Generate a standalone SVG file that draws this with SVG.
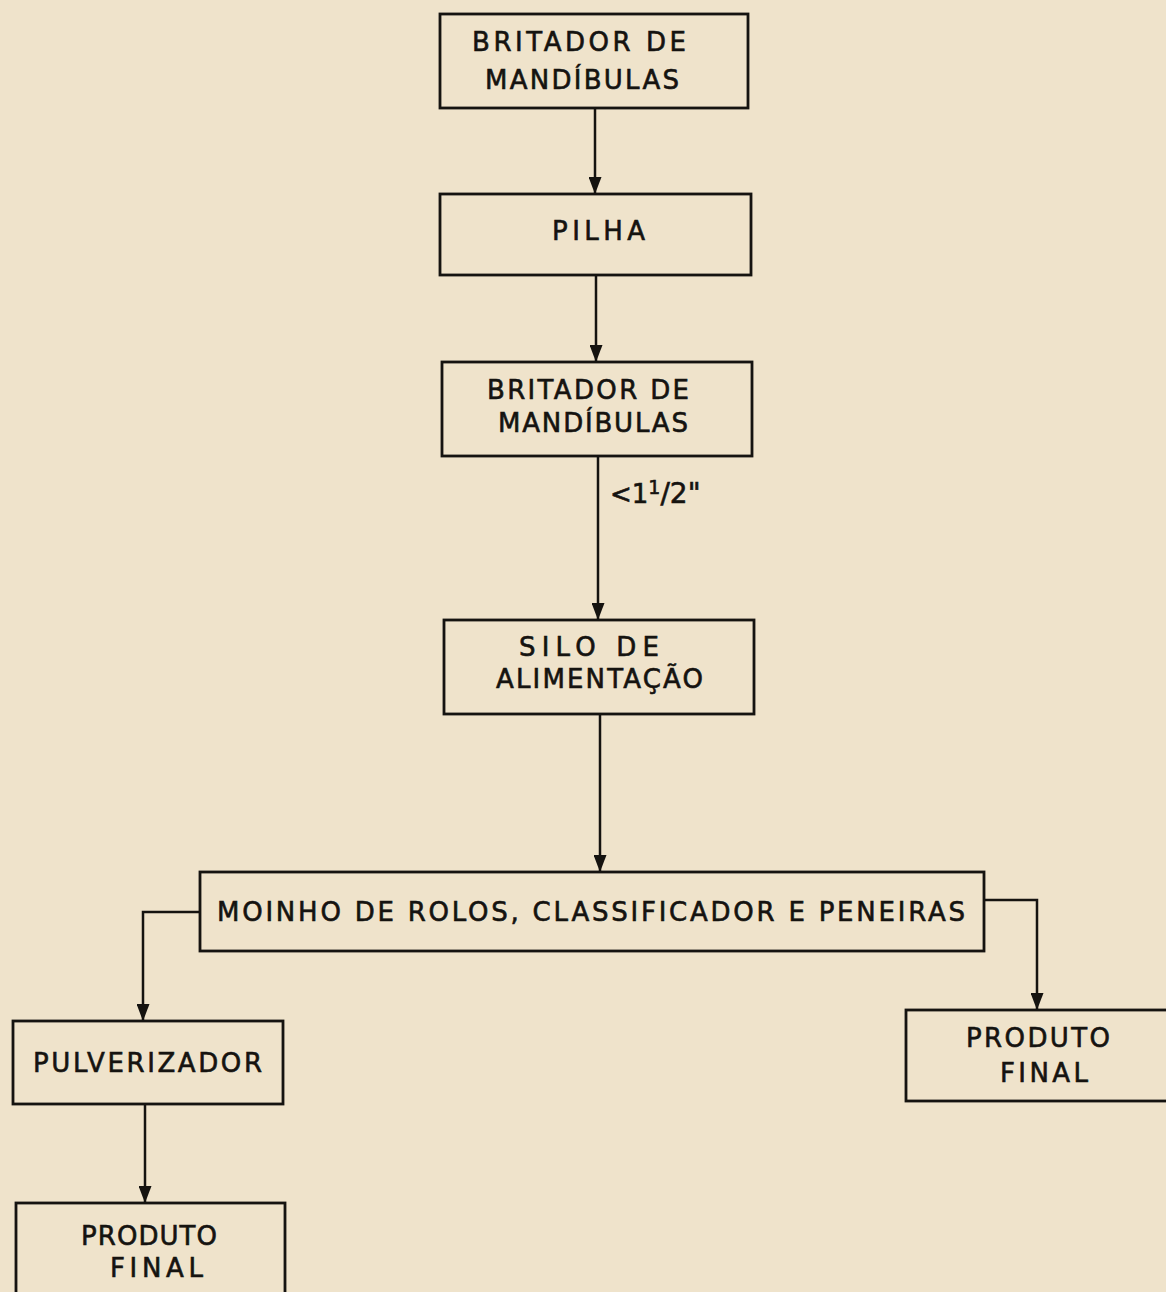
<svg xmlns="http://www.w3.org/2000/svg" width="1166" height="1292" viewBox="0 0 1166 1292">
<style>
.box{fill:none;stroke:#151310;stroke-width:2.8}
.ln{fill:none;stroke:#151310;stroke-width:2.5}
text{font-family:"DejaVu Sans","Liberation Sans",sans-serif;font-size:26px;fill:#151310;stroke:#151310;stroke-width:0.6}
</style>
<defs>
<marker id="ah" markerWidth="17" markerHeight="13" refX="17" refY="6.5" orient="auto" markerUnits="userSpaceOnUse" viewBox="0 0 17 13">
<path d="M0,0 L17,6.5 L0,13 Z" fill="#151310"/>
</marker>
</defs>
<rect width="1166" height="1292" fill="#efe3cb"/>
<g id="connectors">
<line class="ln" x1="595" y1="108" x2="595" y2="194" marker-end="url(#ah)"/>
<line class="ln" x1="596" y1="275" x2="596" y2="362" marker-end="url(#ah)"/>
<line class="ln" x1="598" y1="456" x2="598" y2="620" marker-end="url(#ah)"/>
<line class="ln" x1="600" y1="714" x2="600" y2="872" marker-end="url(#ah)"/>
<polyline class="ln" points="200,912 143,912 143,1021" marker-end="url(#ah)"/>
<polyline class="ln" points="984,900 1037,900 1037,1010" marker-end="url(#ah)"/>
<line class="ln" x1="145" y1="1104" x2="145" y2="1203" marker-end="url(#ah)"/>
<text id="label-size" x="610" y="503" font-size="28">&lt;1<tspan dy="-9" font-size="19">1</tspan><tspan dy="9" font-size="28">/2"</tspan></text>
</g>
<g id="britador1">
<rect class="box" x="440" y="14" width="308" height="94"/>
<text x="472" y="51" textLength="214" lengthAdjust="spacing">BRITADOR DE</text>
<text x="485" y="89" textLength="194" lengthAdjust="spacing">MANDÍBULAS</text>
</g>
<g id="pilha">
<rect class="box" x="440" y="194" width="311" height="81"/>
<text x="552" y="240" textLength="93" lengthAdjust="spacing">PILHA</text>
</g>
<g id="britador2">
<rect class="box" x="442" y="362" width="310" height="94"/>
<text x="487" y="399" textLength="202" lengthAdjust="spacing">BRITADOR DE</text>
<text x="498" y="432" textLength="190" lengthAdjust="spacing">MANDÍBULAS</text>
</g>
<g id="silo">
<rect class="box" x="444" y="620" width="310" height="94"/>
<text x="519" y="656" textLength="140" lengthAdjust="spacing">SILO  DE</text>
<text x="496" y="688" textLength="207" lengthAdjust="spacing">ALIMENTAÇÃO</text>
</g>
<g id="moinho">
<rect class="box" x="200" y="872" width="784" height="79"/>
<text x="217" y="921" textLength="748" lengthAdjust="spacing">MOINHO DE ROLOS, CLASSIFICADOR E PENEIRAS</text>
</g>
<g id="pulverizador">
<rect class="box" x="13" y="1021" width="270" height="83"/>
<text x="33" y="1072" textLength="229" lengthAdjust="spacing">PULVERIZADOR</text>
</g>
<g id="produto-final-1">
<rect class="box" x="16" y="1203" width="269" height="100"/>
<text x="81" y="1245" textLength="136" lengthAdjust="spacing">PRODUTO</text>
<text x="110" y="1277" textLength="93" lengthAdjust="spacing">FINAL</text>
</g>
<g id="produto-final-2">
<rect class="box" x="906" y="1010" width="270" height="91"/>
<text x="966" y="1047" textLength="144" lengthAdjust="spacing">PRODUTO</text>
<text x="1000" y="1082" textLength="88" lengthAdjust="spacing">FINAL</text>
</g>
</svg>
